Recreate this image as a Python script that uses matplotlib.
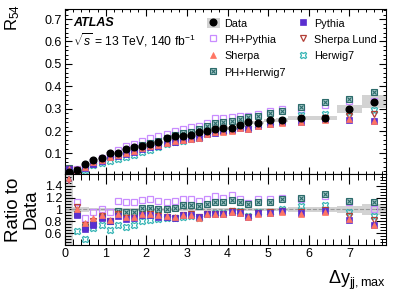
import numpy as np
import matplotlib
matplotlib.use('Agg')
import matplotlib.pyplot as plt
from matplotlib.patches import Patch
from matplotlib.lines import Line2D
from matplotlib.ticker import MultipleLocator, FuncFormatter

plt.rcParams['font.family'] = ['Liberation Sans', 'DejaVu Sans']
plt.rcParams['mathtext.fontset'] = 'custom'
plt.rcParams['mathtext.rm'] = 'Liberation Sans'
plt.rcParams['mathtext.it'] = 'Liberation Sans:italic'
plt.rcParams['mathtext.bf'] = 'Liberation Sans:bold'

# bin edges in delta y_jj,max
edges = [0.0, 0.2, 0.4, 0.6, 0.8, 1.0, 1.2, 1.4, 1.6, 1.8, 2.0, 2.2, 2.4, 2.6,
         2.8, 3.0, 3.2, 3.4, 3.6, 3.8, 4.0, 4.2, 4.4, 4.6, 4.9, 5.2, 5.5, 6.1,
         6.7, 7.3, 7.9]

data_r54 = [0.018, 0.026, 0.053, 0.071, 0.078, 0.103, 0.100, 0.118, 0.127, 0.135,
            0.143, 0.153, 0.167, 0.177, 0.178, 0.183, 0.196, 0.202, 0.210, 0.215,
            0.212, 0.227, 0.240, 0.237, 0.248, 0.249, 0.256, 0.260, 0.300, 0.331]
# relative uncertainty of the data
data_rel_unc = [1.0, 0.05, 0.035, 0.03, 0.03, 0.03, 0.03, 0.03, 0.03, 0.03,
                0.03, 0.03, 0.03, 0.03, 0.03, 0.03, 0.03, 0.03, 0.03, 0.03,
                0.03, 0.03, 0.03, 0.03, 0.03, 0.03, 0.035, 0.035, 0.06, 0.085]

# MC / data
ratio_pythia = [1.7, 0.90, 0.67, 0.73, 0.86, 0.80, 0.89, 0.84, 0.85, 0.90,
                0.90, 0.88, 0.87, 0.86, 0.90, 0.91, 0.87, 0.92, 0.92, 0.93,
                0.96, 0.94, 0.88, 0.94, 0.94, 0.97, 0.94, 0.98, 0.83, 0.74]
ratio_ph_pythia = [1.8, 1.12, 0.85, 0.95, 1.00, 0.95, 1.15, 1.12, 1.12, 1.16,
                   1.18, 1.15, 1.13, 1.14, 1.17, 1.18, 1.14, 1.17, 1.22, 1.20,
                   1.24, 1.18, 1.11, 1.17, 1.17, 1.20, 1.17, 1.22, 1.12, 1.01]
ratio_sherpa = [1.7, 1.00, 0.78, 0.85, 0.91, 0.83, 0.92, 0.87, 0.88, 0.93,
                0.92, 0.90, 0.89, 0.87, 0.90, 0.91, 0.86, 0.93, 0.93, 0.92,
                0.95, 0.94, 0.87, 0.93, 0.94, 0.95, 0.93, 0.96, 0.84, 0.74]
ratio_sherpa_lund = [1.75, 1.04, 0.74, 0.80, 0.89, 0.80, 0.93, 0.85, 0.86, 0.91,
                     0.92, 0.89, 0.88, 0.86, 0.91, 0.92, 0.88, 0.93, 0.93, 0.93,
                     0.97, 0.95, 0.88, 0.94, 0.95, 0.97, 0.95, 0.99, 0.89, 0.83]
ratio_herwig7 = [1.8, 0.63, 0.50, 0.69, 0.73, 0.65, 0.73, 0.70, 0.74, 0.80,
                 0.82, 0.84, 0.86, 0.85, 0.88, 0.89, 0.86, 0.92, 0.94, 0.94,
                 0.98, 0.97, 0.89, 0.95, 0.96, 1.00, 1.06, 1.07, 0.95, 0.89]
ratio_ph_herwig7 = [1.9, 0.92, 0.70, 0.76, 0.88, 0.80, 0.98, 0.95, 0.95, 1.03,
                    1.03, 1.01, 1.01, 1.03, 1.07, 1.08, 1.06, 1.09, 1.12, 1.12,
                    1.16, 1.12, 1.09, 1.13, 1.13, 1.17, 1.20, 1.27, 1.15, 1.13]

edges = np.array(edges)
x = 0.5 * (edges[:-1] + edges[1:])
w = np.diff(edges)
data = np.array(data_r54)
rel = np.array(data_rel_unc)

fig = plt.figure(figsize=(4.07, 2.92), dpi=100)
ax1 = fig.add_axes([0.1597, 0.4041, 0.7887, 0.5651])
ax2 = fig.add_axes([0.1597, 0.1610, 0.7887, 0.2432], sharex=ax1)

ms = 4.0
styles = {
    'PH+Pythia': dict(marker='s', mfc='none', mec='#c98cff', mew=0.9, ms=ms + 0.3),
    'PH+Herwig7': dict(marker='s', mfc='#a9cccc', mec='#2c6b6b', mew=0.8, ms=ms + 0.3),
    'Herwig7': dict(marker='X', mfc='none', mec='#35b4b4', mew=0.9, ms=ms + 0.8),
    'Sherpa Lund': dict(marker='v', mfc='none', mec='#b23f36', mew=0.9, ms=ms),
    'Pythia': dict(marker='s', mfc='#5a2ed0', mec='#5a2ed0', mew=0.5, ms=ms - 0.3),
    'Sherpa': dict(marker='^', mfc='#ff7563', mec='#ff7563', mew=0.5, ms=ms),
}
ratios = {
    'PH+Pythia': ratio_ph_pythia,
    'PH+Herwig7': ratio_ph_herwig7,
    'Herwig7': ratio_herwig7,
    'Sherpa Lund': ratio_sherpa_lund,
    'Pythia': ratio_pythia,
    'Sherpa': ratio_sherpa,
}
xmark = dict(marker='x', color='#2c6b6b', mew=0.8, ms=ms - 1.0)

r_lo, r_hi = 0.4, 1.6
band_c = '#d3d3d3'

# data uncertainty bands
ax1.bar(x, 2 * data * rel, bottom=data - data * rel, width=w, color=band_c, lw=0, zorder=1)
ax2.bar(x, 2 * rel, bottom=1 - rel, width=w, color=band_c, lw=0, zorder=1)
ax2.axhline(1, color='#9a9a9a', ls='--', lw=0.8, zorder=2)

for name, st in styles.items():
    r = np.array(ratios[name])
    ax1.plot(x, data * r, ls='none', zorder=3, **st)
    ok = (r >= r_lo) & (r <= r_hi)
    ax2.plot(x[ok], r[ok], ls='none', zorder=3, **st)
    if name == 'PH+Herwig7':
        ax1.plot(x, data * r, ls='none', zorder=3, **xmark)
        ax2.plot(x[ok], r[ok], ls='none', zorder=3, **xmark)
    for xi in x[r > r_hi]:
        ax2.annotate('', xy=(xi, r_hi + 0.02), xytext=(xi, r_hi - 0.2),
                     arrowprops=dict(arrowstyle='-|>', color=st['mec'], lw=1.0,
                                     mutation_scale=7),
                     annotation_clip=False, zorder=4)

ax1.plot(x, data, ls='none', marker='o', color='black', ms=4.8, zorder=5)

ax1.set_xlim(0, 7.9)
ax1.set_ylim(0.008, 0.745)
ax2.set_ylim(r_lo, r_hi)

for ax in (ax1, ax2):
    ax.tick_params(which='both', direction='in', top=True, right=True,
                   labelsize=9, pad=2)
    ax.xaxis.set_major_locator(MultipleLocator(1))
    ax.xaxis.set_minor_locator(MultipleLocator(0.2))
    for s in ax.spines.values():
        s.set_linewidth(0.8)
ax1.tick_params(which='major', length=5, width=0.8)
ax1.tick_params(which='minor', length=2.5, width=0.7)
ax2.tick_params(which='major', length=7, width=0.8)
ax2.tick_params(which='minor', length=4, width=0.7)
ax1.tick_params(labelbottom=False)
ax1.yaxis.set_major_locator(MultipleLocator(0.1))
ax1.yaxis.set_minor_locator(MultipleLocator(0.02))
ax2.set_yticks([0.6, 0.8, 1.0, 1.2, 1.4])
ax2.yaxis.set_minor_locator(MultipleLocator(0.05))
ax2.yaxis.set_major_formatter(FuncFormatter(lambda v, p: '%g' % v))

ax1.set_ylabel('R$_{54}$', fontsize=12, loc='top')
ax1.yaxis.set_label_coords(-0.135, 1.03)
ax2.set_ylabel('Ratio to\nData', fontsize=13.5, linespacing=1.0)
ax2.yaxis.set_label_coords(-0.08, 0.5)
ax2.set_xlabel('Δy$_{\\mathrm{jj,max}}$', fontsize=13, loc='right')
ax2.xaxis.set_label_coords(1.0, -0.33)

ax1.text(0.025, 0.915, 'ATLAS', transform=ax1.transAxes, fontsize=9,
         fontweight='bold', fontstyle='italic', va='center')
ax1.text(0.025, 0.81, r'$\sqrt{s}$ = 13 TeV, 140 fb$^{-1}$', transform=ax1.transAxes,
         fontsize=8.7, va='center')

def handle(name):
    st = styles[name]
    h = Line2D([], [], ls='none', **st)
    if name == 'PH+Herwig7':
        return (h, Line2D([], [], ls='none', **xmark))
    return h

data_h = (Patch(color=band_c, lw=0), Line2D([], [], ls='none', marker='o', color='black', ms=4.8))
order = ['Data', 'PH+Pythia', 'Sherpa', 'PH+Herwig7', 'Pythia', 'Sherpa Lund', 'Herwig7']
handles = [data_h if n == 'Data' else handle(n) for n in order]
ax1.legend(handles, order, ncol=2, loc='upper left', bbox_to_anchor=(0.441, 0.947),
           frameon=False, fontsize=7.8, borderpad=0, borderaxespad=0,
           handlelength=1.2, handleheight=1.1, handletextpad=0.43,
           columnspacing=0.96, labelspacing=0.5)

fig.savefig('out.png', dpi=100)
